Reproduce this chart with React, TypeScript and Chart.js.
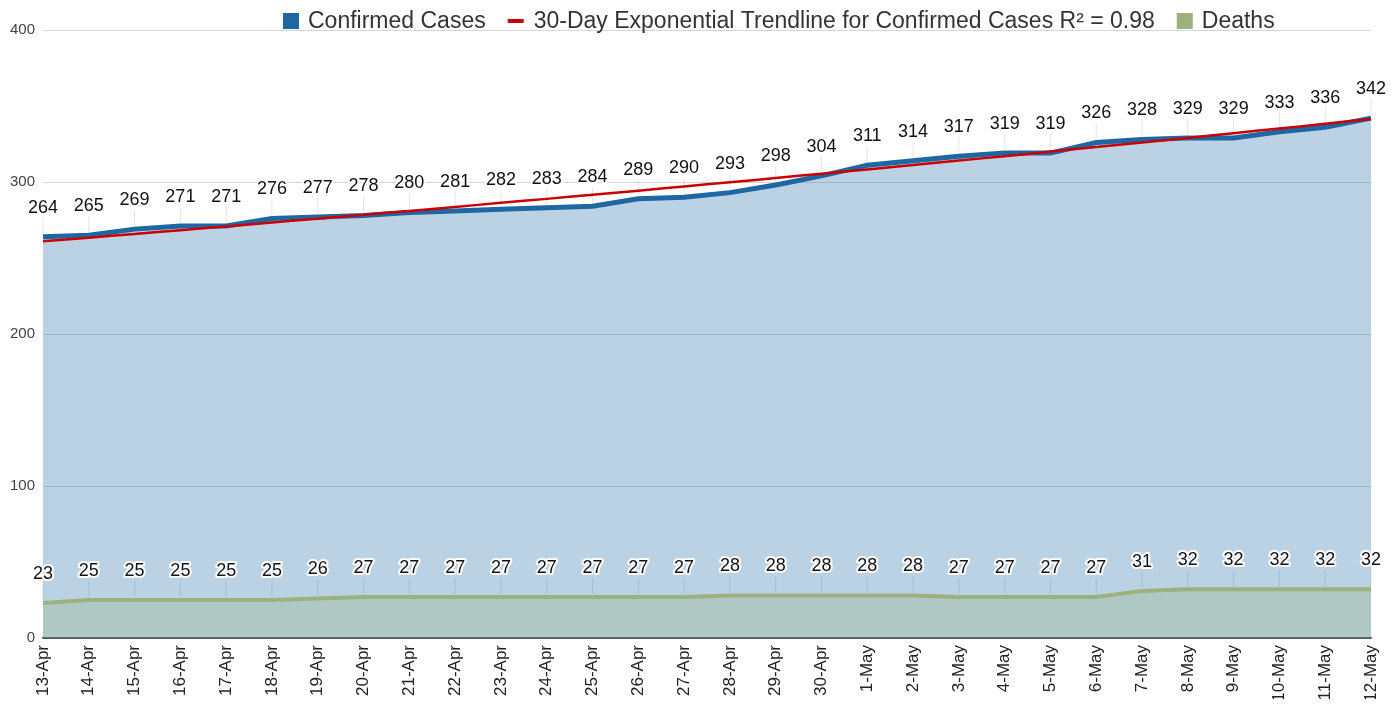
import React, { useEffect, useRef } from "react";
import { Chart, registerables } from "chart.js";

Chart.register(...registerables);

const labels = [
  "13-Apr", "14-Apr", "15-Apr", "16-Apr", "17-Apr", "18-Apr", "19-Apr", "20-Apr", "21-Apr", "22-Apr",
  "23-Apr", "24-Apr", "25-Apr", "26-Apr", "27-Apr", "28-Apr", "29-Apr", "30-Apr", "1-May", "2-May",
  "3-May", "4-May", "5-May", "6-May", "7-May", "8-May", "9-May", "10-May", "11-May", "12-May",
];

const confirmed = [
  264, 265, 269, 271, 271, 276, 277, 278, 280, 281,
  282, 283, 284, 289, 290, 293, 298, 304, 311, 314,
  317, 319, 319, 326, 328, 329, 329, 333, 336, 342,
];

const trendline = [
  261.0, 263.4, 265.8, 268.3, 270.8, 273.3, 275.9, 278.4, 281.0, 283.6,
  286.3, 288.9, 291.6, 294.3, 297.1, 299.8, 302.6, 305.5, 308.3, 311.2,
  314.1, 317.0, 320.0, 323.0, 326.0, 329.0, 332.1, 335.2, 338.3, 341.5,
];

const deaths = [
  23, 25, 25, 25, 25, 25, 26, 27, 27, 27,
  27, 27, 27, 27, 27, 28, 28, 28, 28, 28,
  27, 27, 27, 27, 31, 32, 32, 32, 32, 32,
];

const yTicks = [0, 100, 200, 300, 400];

const FONT = "'Liberation Sans', Arial, sans-serif";

const legendItems = [
  { text: "Confirmed Cases", type: "box", color: "#1f67a3" },
  { text: "30-Day Exponential Trendline for Confirmed Cases R\u00b2 = 0.98", type: "line", color: "#cc0000" },
  { text: "Deaths", type: "box", color: "#9bb27f" },
];

const legendPlugin = {
  id: "customLegend",
  afterDraw(chart: any) {
    const ctx = chart.ctx;
    ctx.save();
    ctx.font = `23px ${FONT}`;
    ctx.textBaseline = "middle";
    ctx.textAlign = "left";
    let x = 275;
    const cy = 13;
    legendItems.forEach((it) => {
      ctx.fillStyle = it.color;
      if (it.type === "box") {
        ctx.fillRect(x, cy - 8, 16, 16);
        x += 25;
      } else {
        ctx.fillRect(x, cy - 2, 16, 4);
        x += 26;
      }
      ctx.fillStyle = "#333";
      ctx.fillText(it.text, x, cy + 1);
      x += ctx.measureText(it.text).width + 22;
    });
    ctx.restore();
  },
};

const dataLabelPlugin = {
  id: "dataLabels",
  afterDatasetsDraw(chart: any) {
    const ctx = chart.ctx;
    ctx.save();
    ctx.font = `18px ${FONT}`;
    ctx.textAlign = "center";
    ctx.textBaseline = "middle";
    [0, 2].forEach((di) => {
      const meta = chart.getDatasetMeta(di);
      const values = chart.data.datasets[di].data;
      meta.data.forEach((pt: any, i: number) => {
        const x = pt.x;
        const y = pt.y;
        const ly = y - 29;
        ctx.strokeStyle = "rgba(0,40,80,0.12)";
        ctx.lineWidth = 1;
        ctx.beginPath();
        ctx.moveTo(x, ly + 10);
        ctx.lineTo(x, y - 3);
        ctx.stroke();
        const t = String(values[i]);
        ctx.lineJoin = "round";
        ctx.strokeStyle = "#ffffff";
        ctx.lineWidth = 4;
        ctx.strokeText(t, x, ly);
        ctx.fillStyle = "#111";
        ctx.fillText(t, x, ly);
      });
    });
    ctx.restore();
  },
};

export default function App() {
  const ref = useRef<HTMLCanvasElement | null>(null);

  useEffect(() => {
    if (!ref.current) return;
    const chart = new Chart(ref.current, {
      type: "line",
      data: {
        labels,
        datasets: [
          {
            label: "Confirmed Cases",
            data: confirmed,
            borderColor: "#1f67a3",
            backgroundColor: "rgba(31,106,165,0.3)",
            borderWidth: 5,
            fill: "origin",
            pointRadius: 0,
            tension: 0,
            order: 2,
          },
          {
            label: "30-Day Exponential Trendline for Confirmed Cases R\u00b2 = 0.98",
            data: trendline,
            borderColor: "#cc0000",
            borderWidth: 2.5,
            fill: false,
            pointRadius: 0,
            tension: 0.3,
            order: 0,
          },
          {
            label: "Deaths",
            data: deaths,
            borderColor: "#9bb27f",
            backgroundColor: "rgba(150,176,124,0.3)",
            borderWidth: 4,
            fill: "origin",
            pointRadius: 0,
            tension: 0,
            order: 1,
          },
        ],
      },
      options: {
        responsive: true,
        maintainAspectRatio: false,
        animation: false,
        layout: { padding: { top: 22, right: 21, left: 0, bottom: 0 } },
        plugins: {
          legend: { display: false },
          tooltip: { enabled: false },
        },
        scales: {
          x: {
            offset: false,
            grid: { display: false, drawTicks: false },
            border: { display: true, color: "#555", width: 1.5 },
            ticks: {
              autoSkip: false,
              minRotation: 90,
              maxRotation: 90,
              padding: 7,
              color: "#222",
              font: { size: 17, family: FONT },
            },
            afterFit: (s: any) => {
              s.height = 61;
              s.paddingLeft = 0;
              s.paddingRight = 0;
            },
          },
          y: {
            min: 0,
            max: 400,
            afterBuildTicks: (s: any) => {
              s.ticks = yTicks.map((v) => ({ value: v }));
            },
            ticks: {
              padding: 8,
              color: "#444",
              font: { size: 15, family: FONT },
            },
            grid: {
              drawTicks: false,
              color: (c: any) => (c.tick && c.tick.value === 0 ? "#555" : "#d6d6d6"),
              lineWidth: 1,
            },
            border: { display: false },
            afterFit: (s: any) => {
              s.width = 35;
            },
          },
        },
      },
      plugins: [dataLabelPlugin, legendPlugin],
    });
    return () => chart.destroy();
  }, []);

  return (
    <div style={{ width: "100%", height: 691, position: "relative" }}>
      <canvas ref={ref} />
    </div>
  );
}
